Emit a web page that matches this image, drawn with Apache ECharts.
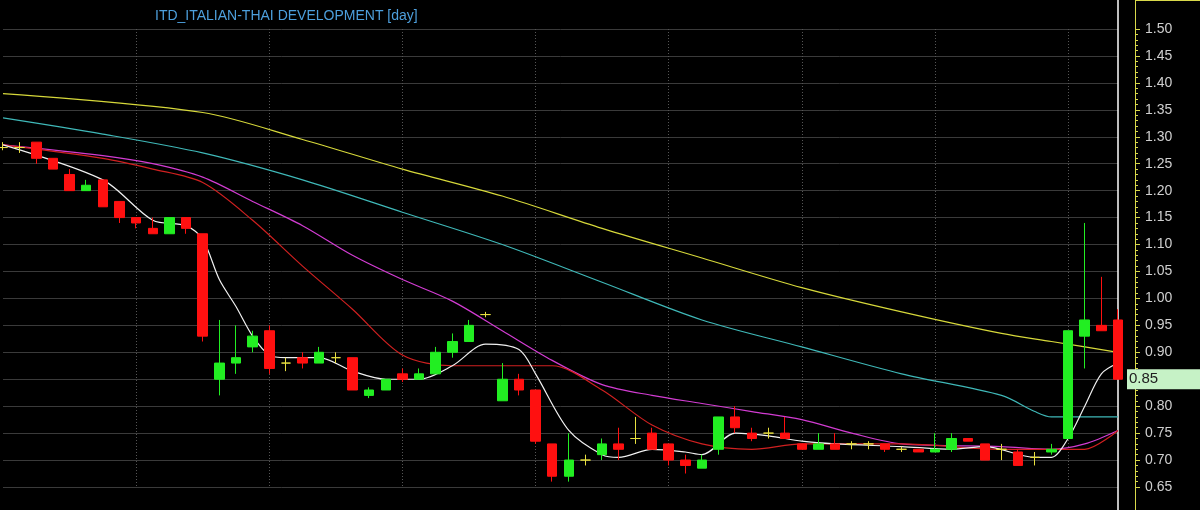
<!DOCTYPE html>
<html>
<head>
<meta charset="utf-8">
<script src="https://cdn.jsdelivr.net/npm/echarts@6/dist/echarts.min.js"></script>
<style>
  html, body { margin: 0; padding: 0; background: #000; }
  #chart { width: 1200px; height: 510px; }
</style>
</head>
<body>
<div id="chart"></div>
<script>
// daily bars: [open, close, low, high]
var opens  = [1.28,1.28,1.29,1.26,1.23,1.20,1.22,1.18,1.15,1.13,1.12,1.15,1.12,0.85,0.88,0.91,0.94,0.88,0.89,0.88,0.89,0.89,0.82,0.83,0.86,0.85,0.86,0.90,0.92,0.97,0.81,0.85,0.83,0.73,0.67,0.70,0.71,0.73,0.74,0.75,0.73,0.70,0.685,0.72,0.78,0.75,0.75,0.75,0.73,0.72,0.73,0.73,0.73,0.73,0.72,0.72,0.715,0.72,0.74,0.73,0.72,0.715,0.705,0.715,0.74,0.93,0.95,0.96];
var closes = [1.28,1.28,1.26,1.24,1.20,1.21,1.17,1.15,1.14,1.12,1.15,1.13,0.93,0.88,0.89,0.93,0.87,0.88,0.88,0.90,0.89,0.83,0.83,0.85,0.85,0.86,0.90,0.92,0.95,0.97,0.85,0.83,0.735,0.67,0.70,0.70,0.73,0.72,0.74,0.72,0.70,0.69,0.70,0.78,0.76,0.74,0.75,0.74,0.72,0.73,0.72,0.73,0.73,0.72,0.72,0.715,0.72,0.74,0.735,0.70,0.72,0.69,0.705,0.72,0.94,0.96,0.94,0.85];
var lows   = [1.275,1.27,1.25,1.24,1.20,1.20,1.17,1.14,1.13,1.12,1.12,1.12,0.92,0.82,0.86,0.90,0.86,0.865,0.87,0.88,0.88,0.83,0.815,0.83,0.845,0.85,0.86,0.89,0.92,0.965,0.81,0.82,0.73,0.66,0.66,0.69,0.70,0.70,0.73,0.72,0.69,0.675,0.685,0.71,0.75,0.735,0.74,0.74,0.72,0.72,0.72,0.72,0.72,0.715,0.715,0.715,0.715,0.715,0.735,0.70,0.70,0.69,0.69,0.71,0.74,0.87,0.94,0.85];
var highs  = [1.29,1.29,1.29,1.26,1.24,1.22,1.22,1.18,1.15,1.15,1.15,1.15,1.12,0.96,0.95,0.94,0.95,0.89,0.90,0.91,0.90,0.89,0.835,0.85,0.87,0.87,0.91,0.935,0.96,0.975,0.88,0.86,0.83,0.73,0.75,0.71,0.74,0.76,0.78,0.76,0.73,0.71,0.71,0.78,0.80,0.76,0.76,0.78,0.73,0.75,0.75,0.735,0.735,0.73,0.725,0.72,0.75,0.75,0.74,0.73,0.73,0.72,0.715,0.73,0.94,1.14,1.04,0.98];

// moving averages read at sampled bars: [barIndex, value]
var maWhite = [[0,1.285],[6,1.22],[9,1.145],[11,1.135],[12,1.11],[13,1.035],[14,0.985],[15,0.93],[16,0.895],[17,0.89],[19,0.89],[21,0.865],[23,0.85],[25,0.85],[27,0.875],[29,0.915],[31,0.905],[32,0.86],[34,0.755],[36,0.71],[37,0.705],[39,0.72],[41,0.715],[42,0.71],[44,0.75],[46,0.745],[48,0.735],[50,0.73],[54,0.725],[57,0.72],[59,0.725],[62,0.705],[63,0.705],[64,0.74],[65,0.80],[66,0.86],[67,0.88]];
var maRed = [[0,1.285],[6,1.26],[9,1.24],[12,1.215],[15,1.145],[18,1.06],[21,0.98],[24,0.895],[27,0.875],[30,0.875],[33,0.875],[36,0.83],[39,0.765],[42,0.73],[45,0.72],[48,0.73],[54,0.73],[60,0.72],[63,0.72],[65,0.72],[67,0.755]];
var maMagenta = [[0,1.285],[6,1.265],[9,1.25],[12,1.225],[15,1.18],[18,1.135],[21,1.08],[24,1.035],[27,0.995],[30,0.94],[33,0.885],[36,0.84],[39,0.82],[42,0.805],[45,0.79],[48,0.775],[51,0.75],[54,0.73],[60,0.725],[63,0.72],[65,0.73],[67,0.755]];
var maCyan = [[0,1.335],[6,1.305],[12,1.27],[18,1.22],[24,1.16],[30,1.10],[36,1.03],[42,0.96],[48,0.91],[54,0.86],[60,0.82],[62,0.79],[63,0.78],[67,0.78]];
var maYellow = [[0,1.38],[12,1.345],[18,1.295],[24,1.24],[30,1.19],[36,1.13],[42,1.075],[48,1.02],[54,0.975],[60,0.935],[63,0.92],[67,0.90]];

var lastPrice = 0.85;

var cats = opens.map(function (v, i) { return String(i); });
var bars = opens.map(function (o, i) { return [o, closes[i], lows[i], highs[i]]; });

function toSeries(pairs) {
  var arr = cats.map(function () { return null; });
  pairs.forEach(function (p) { arr[p[0]] = p[1]; });
  return arr;
}

function maLine(pairs, color) {
  return {
    type: 'line', data: toSeries(pairs), connectNulls: true, smooth: 0.3,
    showSymbol: false, silent: true, z: 3,
    lineStyle: { color: color, width: 1.2 }
  };
}

var chart = echarts.init(document.getElementById('chart'));
chart.setOption({
  backgroundColor: '#000',
  animation: false,
  title: {
    text: 'ITD_ITALIAN-THAI DEVELOPMENT [day]',
    left: 150, top: 4,
    textStyle: { color: '#4d9fdc', fontSize: 14, fontWeight: 'normal', fontFamily: 'Liberation Sans, Arial' }
  },
  grid: { left: 3, right: 82, top: 29, bottom: 23 },
  xAxis: {
    type: 'category', data: cats, boundaryGap: false,
    axisLine: { show: false }, axisTick: { show: false }, axisLabel: { show: false },
    splitLine: {
      show: true,
      interval: function (i) { return i > 0 && i % 8 === 0; },
      lineStyle: { color: '#555', type: [1, 2], width: 1 }
    }
  },
  yAxis: {
    type: 'value', position: 'right', offset: 17,
    min: 0.65, max: 1.50, interval: 0.05, scale: true,
    axisLine: { show: false },
    axisTick: { show: true, length: 5, lineStyle: { color: '#d8d84a' } },
    minorTick: { show: true, splitNumber: 5, length: 3, lineStyle: { color: '#d8d84a' } },
    axisLabel: {
      color: '#cfcfcf', fontSize: 14, margin: 10, fontFamily: 'Liberation Sans, Arial',
      formatter: function (v) { return v.toFixed(2); }
    },
    splitLine: { show: true, lineStyle: { color: '#3a3a3a', width: 1 } }
  },
  series: [
    maLine(maYellow, '#d6d83a'),
    maLine(maCyan, '#3fb8b8'),
    maLine(maMagenta, '#d23cd2'),
    maLine(maRed, '#d02020'),
    {
      type: 'candlestick', data: bars, barWidth: 10, z: 4,
      itemStyle: {
        color: '#22ee22', color0: '#ff1010',
        borderColor: '#22ee22', borderColor0: '#ff1010',
        borderColorDoji: '#e8e040', borderWidth: 1
      }
    },
    maLine(maWhite, '#f0f0f0')
  ]
});

// full-height price axis line, current-bar cursor and last-price tag
var cursorX = chart.convertToPixel({ xAxisIndex: 0 }, cats[cats.length - 1]);
var tagY = chart.convertToPixel({ yAxisIndex: 0 }, lastPrice);
chart.setOption({
  graphic: [
    { type: 'line', shape: { x1: 1135.5, y1: 0, x2: 1135.5, y2: 510 }, style: { stroke: '#d8d84a', lineWidth: 1 } },
    { type: 'line', shape: { x1: 1135, y1: 0.5, x2: 1200, y2: 0.5 }, style: { stroke: '#d8d84a', lineWidth: 1 } },
    { type: 'line', shape: { x1: cursorX, y1: 0, x2: cursorX, y2: 510 }, style: { stroke: '#ffffff', lineWidth: 1.5 }, z: 2 },
    { type: 'rect', shape: { x: 1127, y: tagY - 10, width: 73, height: 20 }, style: { fill: '#c6f2c6' }, z: 10 },
    { type: 'text', x: 1129, y: tagY - 8, z: 11,
      style: { text: lastPrice.toFixed(2), fill: '#202020', fontSize: 15, fontFamily: 'Liberation Sans, Arial' } }
  ]
});
</script>
</body>
</html>
